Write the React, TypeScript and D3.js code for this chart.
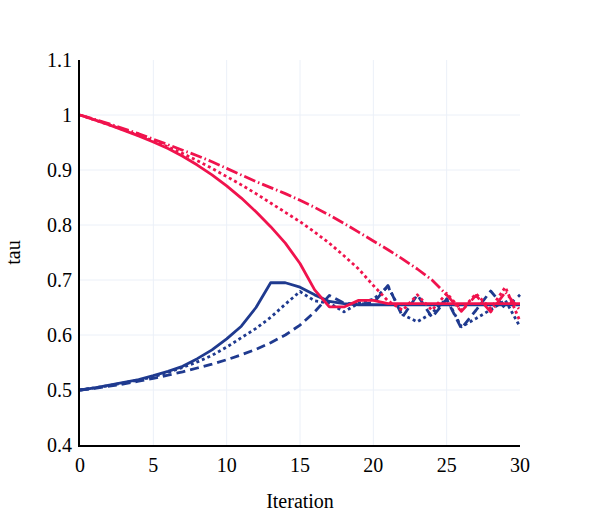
import React from 'react';
import * as d3 from 'd3';

// iteration number for every point
const iterations = [0, 1, 2, 3, 4, 5, 6, 7, 8, 9, 10, 11, 12, 13, 14, 15, 16, 17, 18, 19, 20, 21, 22, 23, 24, 25, 26, 27, 28, 29, 30];

// tau values
const redSolid = [1.0, 0.991, 0.982, 0.972, 0.962, 0.951, 0.939, 0.925, 0.909, 0.891, 0.871, 0.849, 0.824, 0.797, 0.767, 0.73, 0.682, 0.651, 0.651, 0.663, 0.663, 0.657, 0.657, 0.657, 0.657, 0.657, 0.657, 0.657, 0.657, 0.657, 0.657];
const redDot = [1.0, 0.991, 0.982, 0.973, 0.963, 0.953, 0.942, 0.93, 0.917, 0.903, 0.888, 0.873, 0.857, 0.84, 0.823, 0.806, 0.787, 0.767, 0.744, 0.72, 0.69, 0.662, 0.645, 0.673, 0.645, 0.676, 0.645, 0.675, 0.648, 0.687, 0.625];
const redDashDot = [1.0, 0.992, 0.984, 0.975, 0.966, 0.956, 0.946, 0.936, 0.926, 0.915, 0.903, 0.891, 0.879, 0.868, 0.857, 0.845, 0.832, 0.818, 0.803, 0.787, 0.771, 0.755, 0.738, 0.72, 0.7, 0.673, 0.643, 0.672, 0.642, 0.678, 0.645];
const blueSolid = [0.5, 0.504, 0.509, 0.514, 0.519, 0.526, 0.534, 0.543, 0.557, 0.573, 0.593, 0.616, 0.65, 0.695, 0.695, 0.687, 0.673, 0.661, 0.657, 0.655, 0.655, 0.655, 0.655, 0.655, 0.655, 0.655, 0.655, 0.655, 0.655, 0.655, 0.655];
const blueDot = [0.5, 0.504, 0.508, 0.513, 0.518, 0.524, 0.532, 0.541, 0.551, 0.563, 0.578, 0.595, 0.612, 0.632, 0.656, 0.679, 0.662, 0.658, 0.642, 0.658, 0.665, 0.688, 0.637, 0.624, 0.64, 0.666, 0.615, 0.63, 0.646, 0.663, 0.615];
const blueDash = [0.5, 0.503, 0.507, 0.511, 0.516, 0.521, 0.527, 0.533, 0.54, 0.547, 0.555, 0.564, 0.574, 0.586, 0.6, 0.618, 0.642, 0.672, 0.658, 0.656, 0.658, 0.69, 0.633, 0.673, 0.632, 0.665, 0.612, 0.645, 0.68, 0.648, 0.673];

const xTicks = [0, 5, 10, 15, 20, 25, 30];
const yTicks = [0.4, 0.5, 0.6, 0.7, 0.8, 0.9, 1, 1.1];

const RED = '#f0134d';
const BLUE = '#1f3a8f';

const series = [
  { values: blueSolid, color: BLUE, dash: '' },
  { values: blueDot, color: BLUE, dash: '3,3' },
  { values: blueDash, color: BLUE, dash: '9,5' },
  { values: redSolid, color: RED, dash: '' },
  { values: redDot, color: RED, dash: '3,3' },
  { values: redDashDot, color: RED, dash: '12,3,1.5,3' },
];

const W = 600;
const H = 525;
const margin = { top: 60, right: 80, bottom: 80, left: 80 };
const font = '"Liberation Serif", "Times New Roman", serif';

export default function App() {
  const x = d3.scaleLinear().domain([0, 30]).range([margin.left, W - margin.right]);
  const y = d3.scaleLinear().domain([0.4, 1.1]).range([H - margin.bottom, margin.top]);

  const line = (vals: number[]) =>
    d3.line<number>()
      .x((_, i) => x(iterations[i]))
      .y(d => y(d))(vals) || '';

  const left = x(0);
  const right = x(30);
  const top = y(1.1);
  const bottom = y(0.4);

  return (
    <svg width={W} height={H} style={{ position: 'absolute', left: 0, top: 0, background: '#fff' }}>
      {/* grid */}
      {xTicks.slice(1, -1).map(t => (
        <line key={'gx' + t} x1={x(t)} x2={x(t)} y1={top} y2={bottom} stroke="#ebf0f8" strokeWidth={1} />
      ))}
      {yTicks.slice(1, -1).map(t => (
        <line key={'gy' + t} x1={left} x2={right} y1={y(t)} y2={y(t)} stroke="#ebf0f8" strokeWidth={1} />
      ))}

      {/* traces */}
      <g fill="none" strokeWidth={2.8} strokeLinejoin="round">
        {series.map((s, i) => (
          <path key={i} d={line(s.values)} stroke={s.color} strokeDasharray={s.dash || undefined} />
        ))}
      </g>

      {/* axis lines */}
      <line x1={left - 1} x2={left - 1} y1={top} y2={bottom + 1} stroke="#000" strokeWidth={2} />
      <line x1={left - 2} x2={right} y1={bottom + 1} y2={bottom + 1} stroke="#000" strokeWidth={2} />

      {/* tick labels */}
      <g fontFamily={font} fontSize={20} fill="#000">
        {yTicks.map(t => (
          <text key={'ty' + t} x={left - 8} y={y(t)} dy="0.35em" textAnchor="end">
            {d3.format('~g')(t)}
          </text>
        ))}
        {xTicks.map(t => (
          <text key={'tx' + t} x={x(t)} y={bottom + 27} textAnchor="middle">
            {t}
          </text>
        ))}
        <text x={(left + right) / 2} y={H - 17} textAnchor="middle">Iteration</text>
        <text transform={`translate(20,${(top + bottom) / 2}) rotate(-90)`} textAnchor="middle">tau</text>
      </g>
    </svg>
  );
}
